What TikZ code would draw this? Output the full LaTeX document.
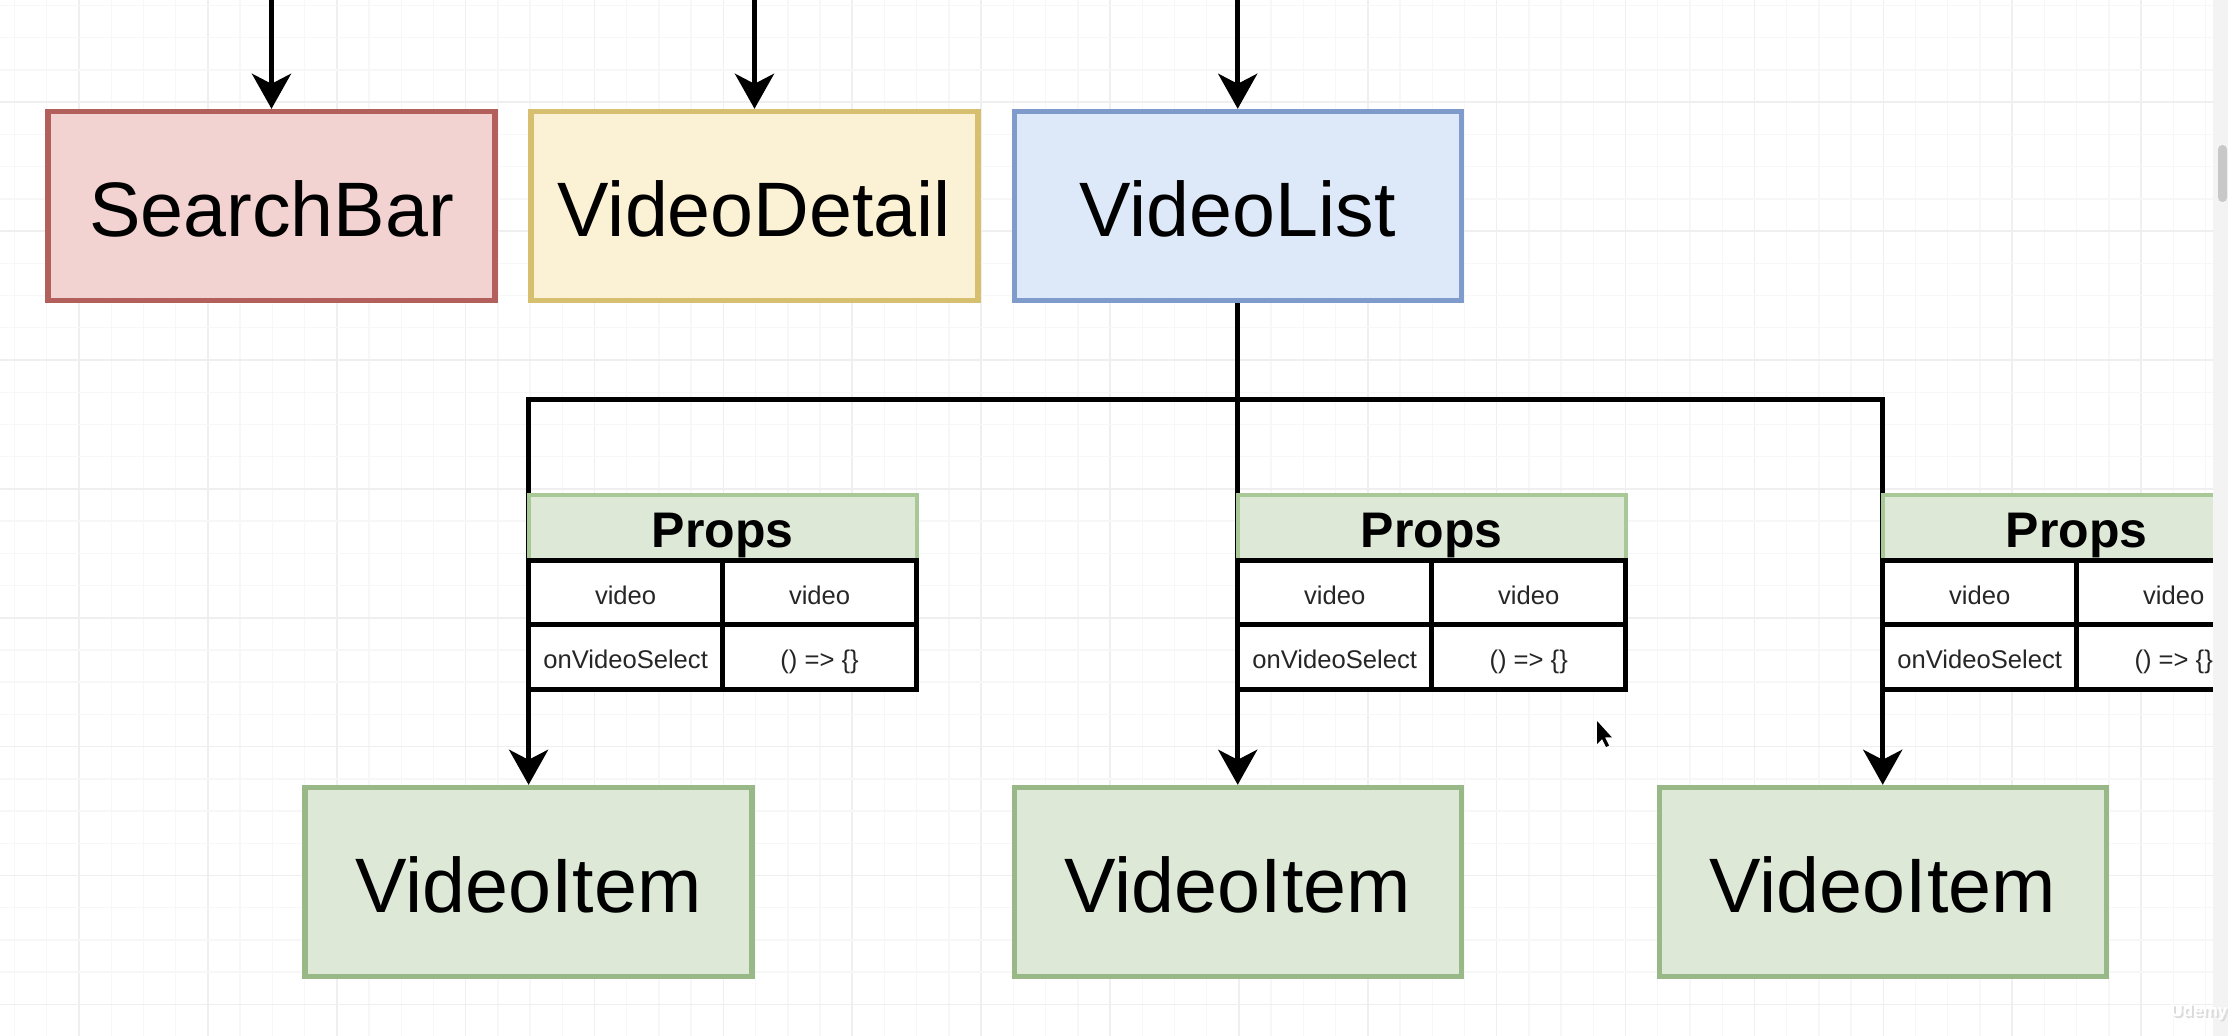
\documentclass[tikz,border=0pt]{standalone}
\usepackage{fontspec}
\setmainfont{Liberation Sans}
\usetikzlibrary{arrows.meta}

\pgfdeclarelayer{gridlayer}
\pgfdeclarelayer{wirelayer}
\pgfsetlayers{gridlayer,wirelayer,main}

\definecolor{sbFill}{HTML}{F2D3D1}
\definecolor{sbLine}{HTML}{B3605C}
\definecolor{vdFill}{HTML}{FBF1D4}
\definecolor{vdLine}{HTML}{D6BF6E}
\definecolor{vlFill}{HTML}{DDE8F8}
\definecolor{vlLine}{HTML}{7E9BCB}
\definecolor{viFill}{HTML}{DDE8D7}
\definecolor{viLine}{HTML}{98B987}
\definecolor{hdLine}{HTML}{A8C898}
\definecolor{gridMinor}{HTML}{F7F7F7}
\definecolor{gridMajor}{HTML}{EFEFEF}
\definecolor{stripFill}{HTML}{F3F3F3}
\definecolor{thumbFill}{HTML}{C8C8C8}

% one props table: #1 name prefix, #2 x of its left edge
\newcommand\PropsTable[2]{%
  \node[prophead] (#1h) at ({#2+194},527.5) {Props};
  \node[propcell] (#1a) at ({#2+97},592.5) {video};
  \node[propcell] (#1b) at ({#2+291},592.5) {video};
  \node[propcell] (#1c) at ({#2+97},657) {onVideoSelect};
  \node[propcell] (#1d) at ({#2+291},657) {() => \{\}};
}

\begin{document}
\begin{tikzpicture}[x=0.5pt,y=-0.5pt,
  comp/.style={draw, line width=2.7pt, minimum width=223.5pt,
    minimum height=94.5pt, inner sep=0pt, text=black,
    text height=34pt, text depth=3pt,
    font=\fontsize{38.6}{40}\selectfont},
  prophead/.style={draw=hdLine, fill=viFill, line width=2pt,
    minimum width=194pt, minimum height=32.5pt, inner sep=0pt,
    text height=25pt, text depth=5.2pt,
    font=\bfseries\fontsize{25}{27}\selectfont},
  propcell/.style={draw=black, fill=white, line width=2.6pt,
    minimum width=97pt, minimum height=32.3pt, inner sep=0pt,
    text height=15pt, text depth=3pt,
    font=\fontsize{12.8}{14}\selectfont, text=black!85},
  wire/.style={line width=2.5pt, black, line join=miter},
  arr/.style={wire, -{Stealth[length=17.5pt, width=19.5pt, inset=5pt]}},
  tailarr/.style={wire, {Stealth[length=17.5pt, width=19.5pt, inset=5pt]}-{Stealth[length=17.5pt, width=19.5pt, inset=5pt]}},
]
\useasboundingbox (0,0) rectangle (2228,1036);

% background and drawing grid
\begin{pgfonlayer}{gridlayer}
  \fill[white] (0,0) rectangle (2228,1036);
  \foreach \i in {-2,...,66}{
    \pgfmathtruncatemacro\m{mod(\i+100,4)}
    \ifnum\m=0
      \draw[gridMajor, line width=0.8pt] ({79+32.22*\i},0) -- ++(0,1036);
    \else
      \draw[gridMinor, line width=0.7pt] ({79+32.22*\i},0) -- ++(0,1036);
    \fi
  }
  \foreach \j in {-11,...,21}{
    \pgfmathtruncatemacro\m{mod(\j+100,4)}
    \ifnum\m=0
      \draw[gridMajor, line width=0.8pt] (0,{360+32.22*\j}) -- ++(2228,0);
    \else
      \draw[gridMinor, line width=0.7pt] (0,{360+32.22*\j}) -- ++(2228,0);
    \fi
  }
\end{pgfonlayer}

% components
\node[comp, fill=sbFill, draw=sbLine] (search) at (271.5,206) {SearchBar};
\node[comp, fill=vdFill, draw=vdLine] (detail) at (754.5,206) {VideoDetail};
\node[comp, fill=vlFill, draw=vlLine] (vlist)  at (1237.7,206) {VideoList};
\node[comp, fill=viFill, draw=viLine] (item1) at (528.6,882) {VideoItem};
\node[comp, fill=viFill, draw=viLine] (item2) at (1237.7,882) {VideoItem};
\node[comp, fill=viFill, draw=viLine] (item3) at (1882.7,882) {VideoItem};

% incoming props from above
\coordinate (inS) at (271.5,-6);
\coordinate (inD) at (754.5,-6);
\coordinate (inL) at (1237.7,-6);
\coordinate (bus) at (1237.7,400);

\begin{pgfonlayer}{wirelayer}
  \draw[arr] (inS) -- (search.north);
  \draw[arr] (inD) -- (detail.north);
  \draw[arr] (inL) -- (vlist.north);
  \draw[arr] (vlist.south) -- (item2.north);
  \draw[tailarr] (item1.north) |- (bus) -| (item3.north);
\end{pgfonlayer}

% props passed down to each VideoItem
\PropsTable{pa}{528.6}
\PropsTable{pb}{1237.7}
\begin{scope}
  \clip (0,0) rectangle (2213,1036);
  \PropsTable{pc}{1882.7}
\end{scope}

% window scrollbar
\fill[stripFill] (2213,0) rectangle (2228,1036);
\fill[thumbFill, rounded corners=2.2pt] (2218,145) rectangle (2227,202);

% mouse pointer
\fill[black] (1597,721) -- ++(0,23) -- ++(5,-5) -- ++(4,8) -- ++(3,-1.5)
  -- ++(-4,-8) -- ++(7,0) -- cycle;

% watermark
\node[font=\bfseries\fontsize{8.5}{9}\selectfont, text=black!14] at (2201,1014) {Udemy};
\node[font=\bfseries\fontsize{8.5}{9}\selectfont, text=white] at (2199,1012) {Udemy};
\end{tikzpicture}
\end{document}
